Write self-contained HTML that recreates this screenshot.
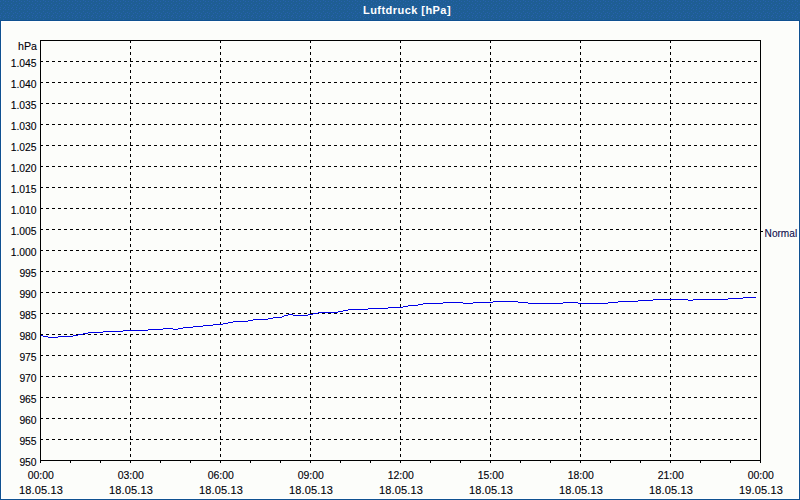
<!DOCTYPE html>
<html><head><meta charset="utf-8"><style>
html,body{margin:0;padding:0;}
body{width:800px;height:500px;overflow:hidden;position:relative;background:#0f5190;}
#hdr{position:absolute;left:0;top:0;width:800px;height:20px;background:#1e5e94;border-bottom:1px solid #0f5190;}
#hdr span{position:absolute;left:363px;top:4px;white-space:nowrap;color:#fff;font:bold 11px "Liberation Sans",sans-serif;line-height:13px;letter-spacing:0.45px;}
#box{position:absolute;left:1px;top:21px;width:796px;height:476px;border:1px solid #fff;background:#fcfdfa;}
svg{position:absolute;left:0;top:0;}
.g{stroke:#000;stroke-width:1;stroke-dasharray:3 3;fill:none;}
.f{stroke:#000;stroke-width:1;fill:none;}
text{font-family:"Liberation Sans",sans-serif;font-size:11px;fill:#000008;stroke:#000008;stroke-width:0.12px;}
text.n{fill:#0c0c4c;stroke:#0c0c4c;}
</style></head><body>
<div id="hdr"><svg width="800" height="20" style="position:absolute;left:0;top:0"><defs><pattern id="dp" width="8" height="8" patternUnits="userSpaceOnUse"><g fill="#2761ad"><rect x="3" y="0" width="1" height="1"/><rect x="0" y="1" width="1" height="1"/><rect x="5" y="1" width="1" height="1"/><rect x="3" y="3" width="1" height="1"/><rect x="1" y="5" width="1" height="1"/><rect x="5" y="5" width="1" height="1"/><rect x="7" y="4" width="1" height="1"/><rect x="4" y="7" width="1" height="1"/><rect x="0" y="7" width="1" height="1"/></g></pattern></defs><rect width="800" height="20" fill="url(#dp)"/></svg><span>Luftdruck [hPa]</span></div>
<div id="box"></div>
<svg width="800" height="500" viewBox="0 0 800 500" shape-rendering="crispEdges">
<line x1="40" y1="61.5" x2="760" y2="61.5" class="g"/>
<line x1="40" y1="82.5" x2="760" y2="82.5" class="g"/>
<line x1="40" y1="103.5" x2="760" y2="103.5" class="g"/>
<line x1="40" y1="124.5" x2="760" y2="124.5" class="g"/>
<line x1="40" y1="145.5" x2="760" y2="145.5" class="g"/>
<line x1="40" y1="166.5" x2="760" y2="166.5" class="g"/>
<line x1="40" y1="187.5" x2="760" y2="187.5" class="g"/>
<line x1="40" y1="208.5" x2="760" y2="208.5" class="g"/>
<line x1="40" y1="229.5" x2="760" y2="229.5" class="g"/>
<line x1="40" y1="250.5" x2="760" y2="250.5" class="g"/>
<line x1="40" y1="271.5" x2="760" y2="271.5" class="g"/>
<line x1="40" y1="292.5" x2="760" y2="292.5" class="g"/>
<line x1="40" y1="313.5" x2="760" y2="313.5" class="g"/>
<line x1="40" y1="334.5" x2="760" y2="334.5" class="g"/>
<line x1="40" y1="355.5" x2="760" y2="355.5" class="g"/>
<line x1="40" y1="376.5" x2="760" y2="376.5" class="g"/>
<line x1="40" y1="397.5" x2="760" y2="397.5" class="g"/>
<line x1="40" y1="418.5" x2="760" y2="418.5" class="g"/>
<line x1="40" y1="439.5" x2="760" y2="439.5" class="g"/>
<line x1="130.5" y1="40" x2="130.5" y2="460" class="g"/>
<line x1="220.5" y1="40" x2="220.5" y2="460" class="g"/>
<line x1="310.5" y1="40" x2="310.5" y2="460" class="g"/>
<line x1="400.5" y1="40" x2="400.5" y2="460" class="g"/>
<line x1="490.5" y1="40" x2="490.5" y2="460" class="g"/>
<line x1="580.5" y1="40" x2="580.5" y2="460" class="g"/>
<line x1="670.5" y1="40" x2="670.5" y2="460" class="g"/>
<rect x="40.5" y="40.5" width="720" height="420" class="f"/>
<rect x="40" y="461" width="1" height="2" fill="#000"/>
<rect x="70" y="461" width="1" height="2" fill="#000"/>
<rect x="100" y="461" width="1" height="2" fill="#000"/>
<rect x="130" y="461" width="1" height="2" fill="#000"/>
<rect x="160" y="461" width="1" height="2" fill="#000"/>
<rect x="190" y="461" width="1" height="2" fill="#000"/>
<rect x="220" y="461" width="1" height="2" fill="#000"/>
<rect x="250" y="461" width="1" height="2" fill="#000"/>
<rect x="280" y="461" width="1" height="2" fill="#000"/>
<rect x="310" y="461" width="1" height="2" fill="#000"/>
<rect x="340" y="461" width="1" height="2" fill="#000"/>
<rect x="370" y="461" width="1" height="2" fill="#000"/>
<rect x="400" y="461" width="1" height="2" fill="#000"/>
<rect x="430" y="461" width="1" height="2" fill="#000"/>
<rect x="460" y="461" width="1" height="2" fill="#000"/>
<rect x="490" y="461" width="1" height="2" fill="#000"/>
<rect x="520" y="461" width="1" height="2" fill="#000"/>
<rect x="550" y="461" width="1" height="2" fill="#000"/>
<rect x="580" y="461" width="1" height="2" fill="#000"/>
<rect x="610" y="461" width="1" height="2" fill="#000"/>
<rect x="640" y="461" width="1" height="2" fill="#000"/>
<rect x="670" y="461" width="1" height="2" fill="#000"/>
<rect x="700" y="461" width="1" height="2" fill="#000"/>
<rect x="730" y="461" width="1" height="2" fill="#000"/>
<rect x="760" y="461" width="1" height="2" fill="#000"/>
<rect x="761" y="231" width="2" height="1" fill="#000"/>
<path d="M41 335.5H43M43 336.5H48M48 337.5H58M58 336.5H73M73 335.5H78M78 334.5H83M83 333.5H88M88 332.5H103M103 331.5H123M123 330.5H148M148 329.5H163M163 328.5H173M173 329.5H178M178 328.5H183M183 327.5H193M193 326.5H203M203 325.5H213M213 324.5H223M223 323.5H228M228 322.5H233M233 321.5H248M248 320.5H253M253 319.5H268M268 318.5H273M273 317.5H282M282 316.5H284M284 315.5H288M288 314.5H293M293 315.5H308M308 314.5H313M313 313.5H318M318 312.5H338M338 311.5H343M343 310.5H348M348 309.5H368M368 308.5H388M388 307.5H403M403 306.5H408M408 305.5H418M418 304.5H423M423 303.5H443M443 302.5H463M463 303.5H473M473 302.5H493M493 301.5H518M518 302.5H528M528 303.5H563M563 302.5H578M578 303.5H608M608 302.5H618M618 301.5H638M638 300.5H653M653 299.5H688M688 300.5H693M693 299.5H728M728 298.5H743M743 297.5H756" stroke="#0000e8" stroke-width="1" fill="none"/>
<g shape-rendering="auto">
<text transform="translate(36.6,67) scale(0.94,1)" text-anchor="end">1.045</text>
<text transform="translate(36.6,88) scale(0.94,1)" text-anchor="end">1.040</text>
<text transform="translate(36.6,109) scale(0.94,1)" text-anchor="end">1.035</text>
<text transform="translate(36.6,130) scale(0.94,1)" text-anchor="end">1.030</text>
<text transform="translate(36.6,151) scale(0.94,1)" text-anchor="end">1.025</text>
<text transform="translate(36.6,172) scale(0.94,1)" text-anchor="end">1.020</text>
<text transform="translate(36.6,193) scale(0.94,1)" text-anchor="end">1.015</text>
<text transform="translate(36.6,214) scale(0.94,1)" text-anchor="end">1.010</text>
<text transform="translate(36.6,235) scale(0.94,1)" text-anchor="end">1.005</text>
<text transform="translate(36.6,256) scale(0.94,1)" text-anchor="end">1.000</text>
<text transform="translate(36.6,277) scale(0.94,1)" text-anchor="end">995</text>
<text transform="translate(36.6,298) scale(0.94,1)" text-anchor="end">990</text>
<text transform="translate(36.6,319) scale(0.94,1)" text-anchor="end">985</text>
<text transform="translate(36.6,340) scale(0.94,1)" text-anchor="end">980</text>
<text transform="translate(36.6,361) scale(0.94,1)" text-anchor="end">975</text>
<text transform="translate(36.6,382) scale(0.94,1)" text-anchor="end">970</text>
<text transform="translate(36.6,403) scale(0.94,1)" text-anchor="end">965</text>
<text transform="translate(36.6,424) scale(0.94,1)" text-anchor="end">960</text>
<text transform="translate(36.6,445) scale(0.94,1)" text-anchor="end">955</text>
<text transform="translate(36.6,466) scale(0.94,1)" text-anchor="end">950</text>
<text transform="translate(37,50) scale(0.97,1)" text-anchor="end">hPa</text>
<text transform="translate(40.7,479) scale(0.95,1)" text-anchor="middle">00:00</text>
<text x="41" y="494" text-anchor="middle" letter-spacing="0.15">18.05.13</text>
<text transform="translate(130.7,479) scale(0.95,1)" text-anchor="middle">03:00</text>
<text x="131" y="494" text-anchor="middle" letter-spacing="0.15">18.05.13</text>
<text transform="translate(220.7,479) scale(0.95,1)" text-anchor="middle">06:00</text>
<text x="221" y="494" text-anchor="middle" letter-spacing="0.15">18.05.13</text>
<text transform="translate(310.7,479) scale(0.95,1)" text-anchor="middle">09:00</text>
<text x="311" y="494" text-anchor="middle" letter-spacing="0.15">18.05.13</text>
<text transform="translate(400.7,479) scale(0.95,1)" text-anchor="middle">12:00</text>
<text x="401" y="494" text-anchor="middle" letter-spacing="0.15">18.05.13</text>
<text transform="translate(490.7,479) scale(0.95,1)" text-anchor="middle">15:00</text>
<text x="491" y="494" text-anchor="middle" letter-spacing="0.15">18.05.13</text>
<text transform="translate(580.7,479) scale(0.95,1)" text-anchor="middle">18:00</text>
<text x="581" y="494" text-anchor="middle" letter-spacing="0.15">18.05.13</text>
<text transform="translate(670.7,479) scale(0.95,1)" text-anchor="middle">21:00</text>
<text x="671" y="494" text-anchor="middle" letter-spacing="0.15">18.05.13</text>
<text transform="translate(760.7,479) scale(0.95,1)" text-anchor="middle">00:00</text>
<text x="761" y="494" text-anchor="middle" letter-spacing="0.15">19.05.13</text>
<text transform="translate(764.6,237) scale(0.92,1)" class="n">Normal</text>
</g>
</svg>
</body></html>
